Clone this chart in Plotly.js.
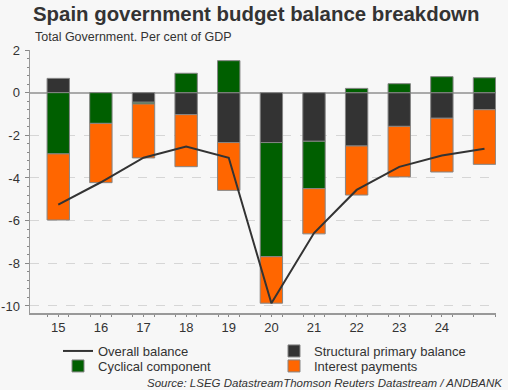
<!DOCTYPE html>
<html>
<head>
<meta charset="utf-8">
<script src="https://cdn.plot.ly/plotly-3.0.1.min.js"></script>
<style>html,body{margin:0;padding:0;background:#f7f7f7;}#chart{width:508px;height:390px;}</style>
</head>
<body>
<div id="chart"></div>
<script>
// Years (20xx) and tick labels
const years = [15, 16, 17, 18, 19, 20, 21, 22, 23, 24, 25];
const tickYears = [15, 16, 17, 18, 19, 20, 21, 22, 23, 24];
const tickLabels = ['15', '16', '17', '18', '19', '20', '21', '22', '23', '24'];
const yTickVals = [2, 0, -2, -4, -6, -8, -10];
const yTickLabels = ['2', '0', '-2', '-4', '-6', '-8', '-10'];
// Series, % of GDP
const overallBalance = [-5.25, -4.2, -3.05, -2.53, -3.05, -9.87, -6.58, -4.56, -3.48, -2.95, -2.63];
const structuralPrimary = [0.67, null, -0.45, -1.03, -2.34, -2.34, -2.28, -2.5, -1.58, -1.2, -0.8];
const cyclicalComponent = [-2.87, -1.44, -0.08, 0.91, 1.5, -5.35, -2.22, 0.2, 0.42, 0.75, 0.7];
const interestPayments = [-3.1, -2.78, -2.53, -2.44, -2.24, -2.18, -2.12, -2.3, -2.37, -2.52, -2.56];

const halfTicks = [];
for (let i = 0; i < years.length; i++) halfTicks.push(years[i] - 0.5);
halfTicks.push(years[years.length - 1] + 0.5);

const font = 'Liberation Sans, Arial, sans-serif';
const barLine = {color: '#858585', width: 1};

const traces = [
  {type: 'scatter', mode: 'lines', name: 'Overall balance', x: years, y: overallBalance,
   line: {color: '#333333', width: 2}, legend: 'legend'},
  {type: 'bar', name: 'Structural primary balance', x: years, y: structuralPrimary,
   marker: {color: '#333333', line: barLine}, width: 0.525, legend: 'legend'},
  {type: 'bar', name: 'Cyclical component', x: years, y: cyclicalComponent,
   marker: {color: '#005f00', line: barLine}, width: 0.525, legend: 'legend2'},
  {type: 'bar', name: 'Interest payments', x: years, y: interestPayments,
   marker: {color: '#ff6600', line: barLine}, width: 0.525, legend: 'legend2'}
];

const legendBase = {
  orientation: 'h', xref: 'container', yref: 'container', x: 58/508, xanchor: 'left', yanchor: 'middle',
  entrywidth: 171, entrywidthmode: 'pixels', bgcolor: 'rgba(0,0,0,0)',
  font: {size: 13, color: '#333'}, traceorder: 'normal'
};

const layout = {
  width: 508, height: 390,
  paper_bgcolor: '#f7f7f7', plot_bgcolor: '#f7f7f7',
  font: {family: font, color: '#333333', size: 13},
  margin: {l: 30, r: 12, t: 50, b: 77, autoexpand: false},
  barmode: 'relative',
  showlegend: true,
  title: {text: '<b>Spain government budget balance breakdown</b>', x: 33/508, xanchor: 'left',
          y: 1 - 7/390, yanchor: 'top', font: {family: font, size: 20.4, color: '#333333'}},
  xaxis: {
    range: [14.337, 25.27], tickmode: 'array', tickvals: tickYears, ticktext: tickLabels,
    ticks: 'outside', ticklen: 2, tickcolor: '#888', showgrid: false, zeroline: false,
    showline: true, linecolor: '#999', linewidth: 1.5,
    tickfont: {size: 13, color: '#333'},
    minor: {tickmode: 'linear', tick0: 14.25, dtick: 0.5, ticks: 'outside', ticklen: 2, tickcolor: '#888', showgrid: false}
  },
  xaxis2: {
    overlaying: 'x', matches: 'x', anchor: 'y', side: 'bottom', range: [14.337, 25.27],
    tickmode: 'array', tickvals: halfTicks, ticks: 'outside', ticklen: 4, tickcolor: '#888',
    showticklabels: false, showgrid: false, zeroline: false, showline: false
  },
  yaxis: {
    range: [-10.33, 2], tickmode: 'array', tickvals: yTickVals, ticktext: yTickLabels,
    ticks: 'outside', ticklen: 4, tickcolor: '#888',
    showline: true, linecolor: '#999', linewidth: 1.5, ticklabelstandoff: 2,
    showgrid: true, gridcolor: '#d6d6d6', griddash: 'dash', gridwidth: 1,
    zeroline: true, zerolinecolor: '#aaaaaa', zerolinewidth: 2,
    tickfont: {size: 13, color: '#333'},
    minor: {tickmode: 'linear', tick0: 0, dtick: 0.4, ticks: 'outside', ticklen: 2, tickcolor: '#888', showgrid: false}
  },
  legend: Object.assign({}, legendBase, {y: 1 - 351/390}),
  legend2: Object.assign({}, legendBase, {y: 1 - 366/390}),
  annotations: [
    {text: 'Total Government. Per cent of GDP', xref: 'paper', yref: 'paper',
     x: 3/466, xanchor: 'left', y: 1 + 13/263, yanchor: 'middle', showarrow: false,
     font: {size: 12.5, color: '#333'}},
    {text: '<i>Source: LSEG DatastreamThomson Reuters Datastream / ANDBANK</i>', xref: 'paper', yref: 'paper',
     x: 1 + 9/466, xanchor: 'right', y: -70/263, yanchor: 'middle', showarrow: false,
     font: {size: 11.5, color: '#333'}}
  ]
};

Plotly.newPlot('chart', traces, layout, {displayModeBar: false, staticPlot: true});
</script>
</body>
</html>
